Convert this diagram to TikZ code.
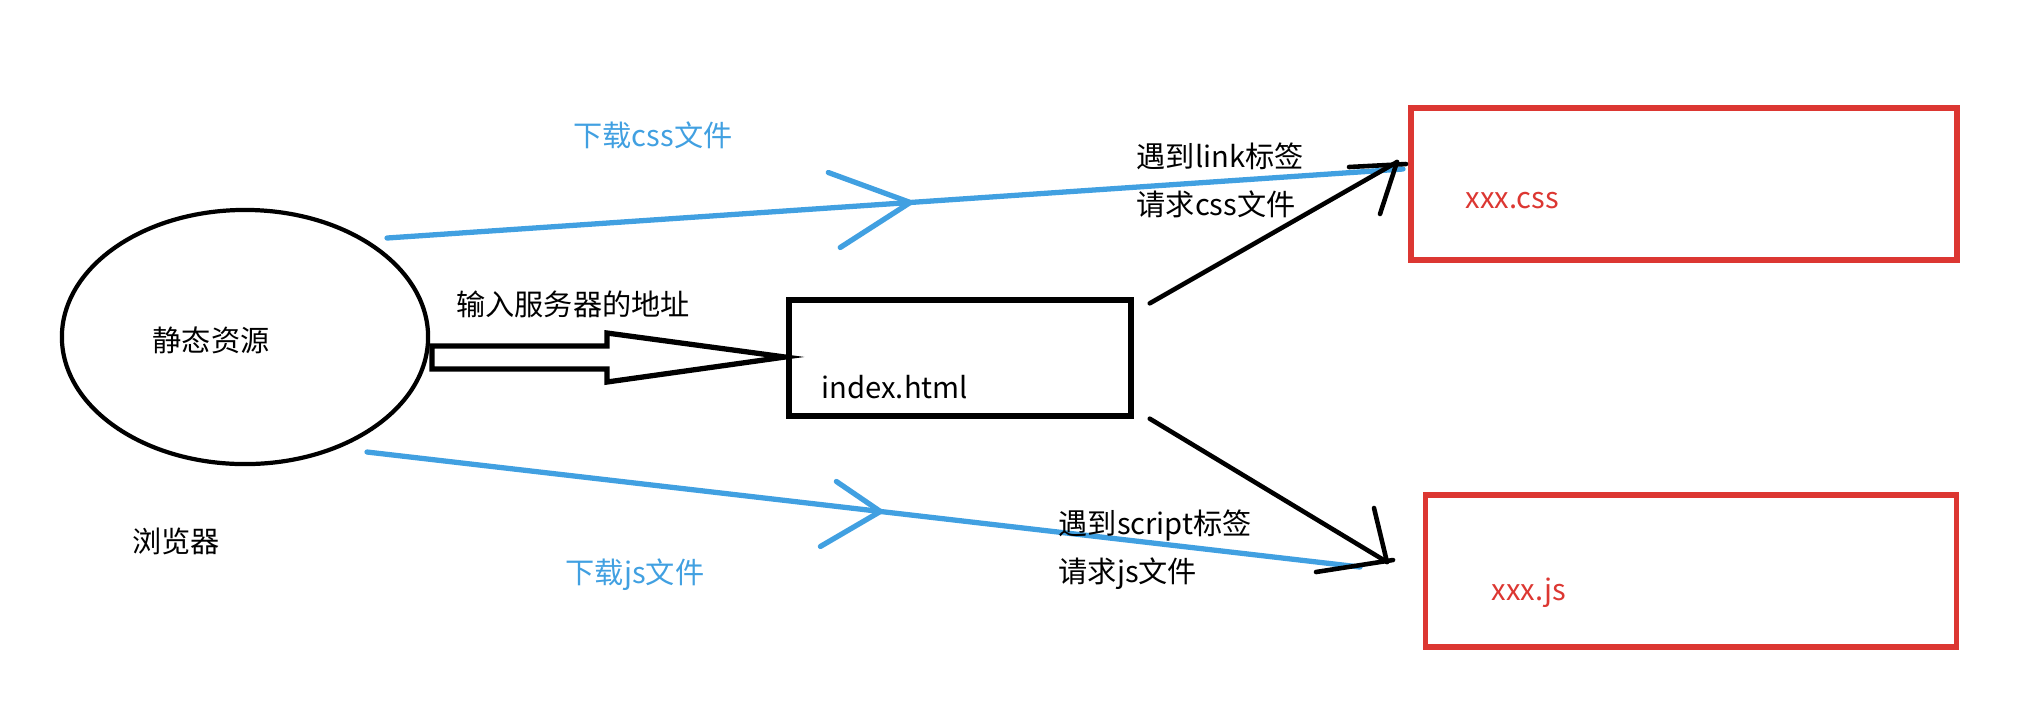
\documentclass[tikz,border=0pt]{standalone}
\usepackage{fontspec}
\setmainfont{Noto Sans CJK SC}
\usepackage{tikz}
\usetikzlibrary{shapes.geometric, positioning, calc}
\definecolor{paintblue}{RGB}{65,160,225}
\definecolor{paintred}{RGB}{220,55,50}

\begin{document}
\begin{tikzpicture}[x=0.01cm, y=-0.01cm,
    every node/.style={font=\fontsize{8.3}{10}\selectfont, inner sep=0pt},
    filebox/.style={draw=paintred, line width=1.6pt, minimum height=1.52cm},
    pagebox/.style={draw, line width=1.5pt, minimum width=3.42cm, minimum height=1.16cm},
    fetch/.style={paintblue, line width=1.5pt, line cap=round},
    ask/.style={black, line width=1.3pt, line cap=round}]
  \useasboundingbox (0,0) rectangle (2036,726);
  % browser side
  \node[ellipse, draw, line width=1.2pt, minimum width=3.66cm, minimum height=2.54cm] (browser) at (245,337) {};
  \node (static) at (211,340) {静态资源};
  \node (browsername) at (176,541) {浏览器};
  % the page and the two files
  \node[pagebox] (page) at (960,358) {};
  \node[anchor=west] (pagename) at (821,387) {index.html};
  \node[filebox, minimum width=5.46cm] (cssfile) at (1684,184) {};
  \node[filebox, minimum width=5.31cm] (jsfile) at (1691,571) {};
  \node[anchor=west, paintred] (cssname) at (1465,201) {xxx.css};
  \node[anchor=west, paintred] (jsname) at (1491,593) {xxx.js};
  % hollow arrow: typing the address
  \draw[line width=1.5pt, line join=miter] (432,346) -- (607,346) -- (607,333) -- (785,357)
    -- (607,382) -- (607,369) -- (432,369) -- cycle;
  \node (address) at (573,304) {输入服务器的地址};
  % downloads
  \coordinate (cssfrom) at (387,238);
  \coordinate (cssto) at (1403,169);
  \coordinate (cssmid) at ($(cssfrom)!0.515!(cssto)$);
  \draw[fetch] (cssfrom) -- (cssto);
  \draw[fetch] ($(cssmid)+(-82,-30)$) -- (cssmid) -- ($(cssmid)+(-70,45)$);
  \coordinate (jsfrom) at (367,452);
  \coordinate (jsto) at (1360,567);
  \coordinate (jsmid) at ($(jsfrom)!0.517!(jsto)$);
  \draw[fetch] (jsfrom) -- (jsto);
  \draw[fetch] ($(jsmid)+(-44,-30)$) -- (jsmid) -- ($(jsmid)+(-60,35)$);
  \node[paintblue] (csslabel) at (653,135) {下载css文件};
  \node[paintblue] (jslabel) at (635,575) {下载js文件};
  % requests from the page
  \coordinate (linktip) at (1397,162);
  \draw[ask] ($(page.north east)+(16,6)$) -- (linktip);
  \draw[ask] ($(linktip)+(-48,5)$) -- ($(linktip)+(9,2)$);
  \draw[ask] (linktip) -- ++(-17,52);
  \coordinate (scripttip) at (1387,562);
  \draw[ask] ($(page.south east)+(16,0)$) -- (scripttip);
  \draw[ask] ($(scripttip)+(-71,10)$) -- ($(scripttip)+(6,-2)$);
  \draw[ask] (scripttip) -- ++(-13,-54);
  \node[anchor=west] (linkstep) at (1136,156) {遇到link标签};
  \node[anchor=west] (cssask) at (1136,204) {请求css文件};
  \node[anchor=west] (scriptstep) at (1058,525) {遇到script标签};
  \node[anchor=west] (jsask) at (1058,574) {请求js文件};
\end{tikzpicture}
\end{document}
